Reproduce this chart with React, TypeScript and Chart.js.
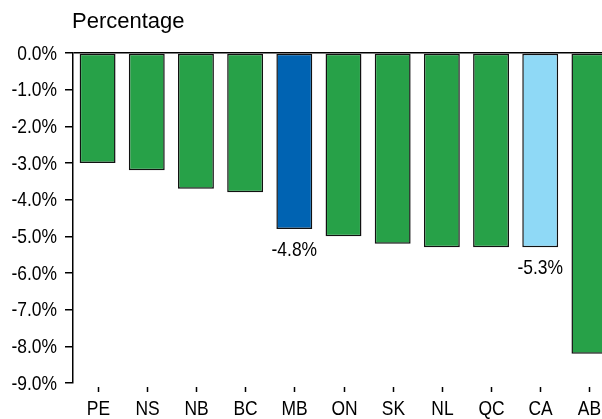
import React, { useEffect, useRef } from "react";
import { Chart, registerables } from "chart.js";

Chart.register(...registerables);

const categories = ["PE", "NS", "NB", "BC", "MB", "ON", "SK", "NL", "QC", "CA", "AB"];
const values = [-3.0, -3.2, -3.7, -3.8, -4.8, -5.0, -5.2, -5.3, -5.3, -5.3, -8.2];
const valueLabels: (string | null)[] = [null, null, null, null, "-4.8%", null, null, null, null, "-5.3%", null];
const yTicks = [0, -1, -2, -3, -4, -5, -6, -7, -8, -9];
const yTitle = "Percentage";

const GREEN = "rgb(39,161,72)";
const BLUE = "rgb(0,99,178)";
const LIGHT_BLUE = "rgb(143,217,246)";
const barColors = categories.map((c) => (c === "MB" ? BLUE : c === "CA" ? LIGHT_BLUE : GREEN));

const FONT = "'Liberation Sans', Arial, Helvetica, sans-serif";
const SQUEEZE = 0.83;

function narrowText(ctx: any, text: string, x: number, y: number, align: string, baseline: string) {
  ctx.save();
  ctx.translate(x, y);
  ctx.scale(SQUEEZE, 1);
  ctx.textAlign = align;
  ctx.textBaseline = baseline;
  ctx.fillText(text, 0, 0);
  ctx.restore();
}

const extrasPlugin = {
  id: "extras",
  afterDraw(chart: any) {
    const ctx = chart.ctx;
    const x = chart.scales.x;
    const y = chart.scales.y;
    const area = chart.chartArea;
    ctx.save();
    ctx.fillStyle = "#000";
    // title
    ctx.font = `22px ${FONT}`;
    ctx.textAlign = "left";
    ctx.textBaseline = "alphabetic";
    ctx.fillText(yTitle, 72, 28);
    // y tick labels
    ctx.font = `21px ${FONT}`;
    yTicks.forEach((v) => {
      narrowText(ctx, v.toFixed(1) + "%", 57, y.getPixelForValue(v) + 1, "right", "middle");
    });
    // x tick marks and labels
    ctx.strokeStyle = "#000";
    ctx.lineWidth = 1.5;
    for (let i = 0; i < categories.length; i++) {
      const px = Math.round(x.getPixelForTick(i)) + 0.5;
      ctx.beginPath();
      ctx.moveTo(px, area.bottom + 4);
      ctx.lineTo(px, area.bottom + 9);
      ctx.stroke();
      narrowText(ctx, categories[i], px, area.bottom + 32, "center", "alphabetic");
    }
    // value labels
    const meta = chart.getDatasetMeta(0);
    valueLabels.forEach((lab, i) => {
      if (!lab) return;
      const el = meta.data[i];
      narrowText(ctx, lab, el.x, y.getPixelForValue(values[i]) + 21, "center", "middle");
    });
    ctx.restore();
  },
};

export default function App() {
  const ref = useRef<HTMLCanvasElement | null>(null);
  useEffect(() => {
    if (!ref.current) return;
    const chart = new Chart(ref.current, {
      type: "bar",
      data: {
        labels: categories,
        datasets: [
          {
            data: values,
            backgroundColor: barColors,
            borderColor: "#111",
            borderWidth: 1.5,
            borderSkipped: false,
            barPercentage: 0.73,
            categoryPercentage: 1,
          },
        ],
      },
      options: {
        responsive: false,
        animation: false,
        layout: { padding: { left: 0, right: 6, top: 53, bottom: 0 } },
        plugins: { legend: { display: false }, tooltip: { enabled: false }, title: { display: false } },
        scales: {
          x: {
            grid: { display: false, drawTicks: false },
            border: { display: false },
            ticks: { display: false },
            afterFit(scale: any) {
              scale.height = 36;
            },
          },
          y: {
            min: -9,
            max: 0,
            ticks: { stepSize: 1, display: false },
            grid: {
              drawOnChartArea: true,
              color: (c: any) => (c.tick && c.tick.value === 0 ? "#000" : "rgba(0,0,0,0)"),
              lineWidth: 1.5,
              tickColor: "#000",
              tickLength: 8,
            },
            border: { display: true, color: "#000", width: 1.5 },
            afterFit(scale: any) {
              scale.width = 73;
            },
          },
        },
      },
      plugins: [extrasPlugin],
    });
    return () => chart.destroy();
  }, []);
  return (
    <div style={{ position: "absolute", left: 0, top: 0, width: 602, height: 419, overflow: "hidden", background: "#fff" }}>
      <canvas ref={ref} width={620} height={419} style={{ display: "block", width: 620, height: 419 }} />
    </div>
  );
}
